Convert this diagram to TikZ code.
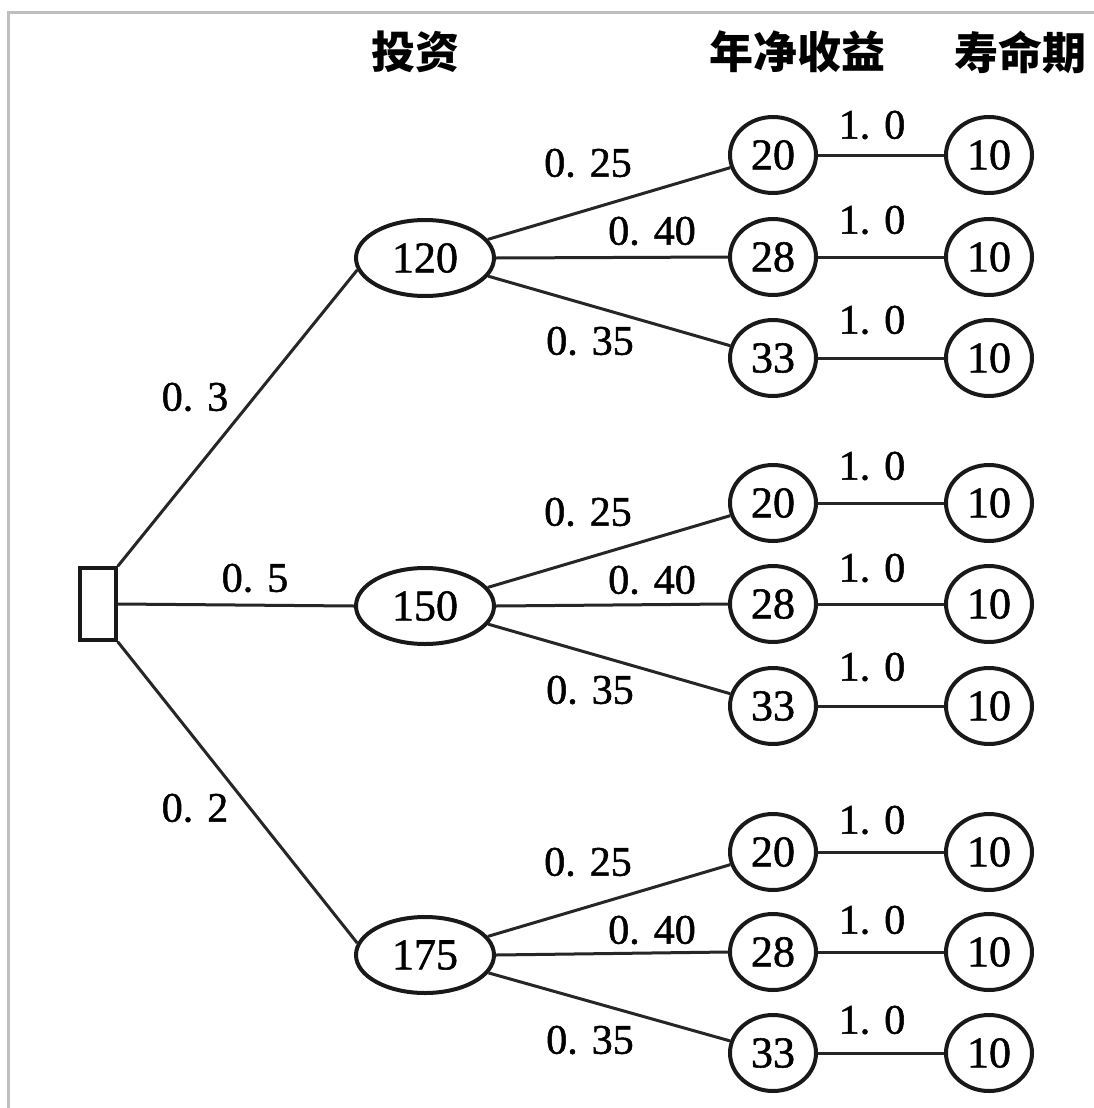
\documentclass[tikz,border=0pt]{standalone}
\usepackage{fontspec}
\setmainfont{Liberation Serif}
\newfontfamily\numfont[FakeBold=1.2]{Liberation Serif}
\newfontfamily\cjk{Noto Sans CJK SC}
\usetikzlibrary{shapes.geometric}
\begin{document}
\begin{tikzpicture}[x=1pt,y=-1pt,
  every node/.style={font=\numfont\fontsize{44}{48}\selectfont},
  conn/.style={line width=3pt, draw=black!85},
  invest/.style={ellipse, draw=black!90, line width=4pt, inner sep=0pt, minimum width=138pt, minimum height=76pt},
  small/.style={ellipse, draw=black!90, line width=4pt, inner sep=0pt, minimum width=86pt, minimum height=76pt},
  prob/.style={inner sep=0pt, font=\numfont\fontsize{42}{46}\selectfont},
  head/.style={inner sep=0pt, font=\cjk\bfseries\fontsize{44}{48}\selectfont},
  frameline/.style={line width=3pt, draw=black!25}]
\useasboundingbox (0,0) rectangle (1094,1108);
\fill[white] (0,0) rectangle (1094,1108);
% frame
\coordinate (fa) at (8,1108);
\coordinate (fb) at (8,13);
\coordinate (fc) at (1094,13);
\draw[frameline] (fa) -- (fb) -- (fc);
% headers
\node[head] (h1) at (415,52) {投资};
\node[head] (h2) at (797,52) {年净收益};
\node[head] (h3) at (1020,52) {寿命期};
% root
\node[draw=black!90, line width=3.5pt, minimum width=36pt, minimum height=72pt, inner sep=0pt] (root) at (98,604) {};
% investments
\node[invest] (i1) at (425,258) {120};
\node[invest] (i2) at (425,606) {150};
\node[invest] (i3) at (425,955) {175};
% income and life nodes
\foreach \g/\ya/\yb/\yc in {1/155/257/358, 2/503/604/706, 3/852/952/1053} {
  \node[small] (r\g a) at (773,\ya) {20};
  \node[small] (r\g b) at (773,\yb) {28};
  \node[small] (r\g c) at (773,\yc) {33};
  \node[small] (l\g a) at (989,\ya) {10};
  \node[small] (l\g b) at (989,\yb) {10};
  \node[small] (l\g c) at (989,\yc) {10};
}
% connectors
\draw[conn] (root.north east) -- (i1.190);
\draw[conn] (root.east) -- (i2.west);
\draw[conn] (root.south east) -- (i3.170);
\foreach \g in {1,2,3} {
  \draw[conn] (i\g) -- (r\g a);
  \draw[conn] (i\g.east) -- (r\g b.west);
  \draw[conn] (i\g) -- (r\g c);
  \draw[conn] (r\g a) -- (l\g a);
  \draw[conn] (r\g b) -- (l\g b);
  \draw[conn] (r\g c) -- (l\g c);
}
% probabilities
\node[prob] (p1) at (195,397) {0. 3};
\node[prob] (p2) at (255,578) {0. 5};
\node[prob] (p3) at (195,808) {0. 2};
\foreach \g/\dy in {1/0, 2/349, 3/699} {
  \node[prob] (q\g a) at (588,163+\dy) {0. 25};
  \node[prob] (q\g b) at (652,231+\dy) {0. 40};
  \node[prob] (q\g c) at (590,341+\dy) {0. 35};
}
\foreach \n/\y in {1/125, 2/220, 3/320, 4/466, 5/568, 6/667, 7/820, 8/920, 9/1020} {
  \node[prob] (o\n) at (872,\y) {1. 0};
}
\end{tikzpicture}
\end{document}
